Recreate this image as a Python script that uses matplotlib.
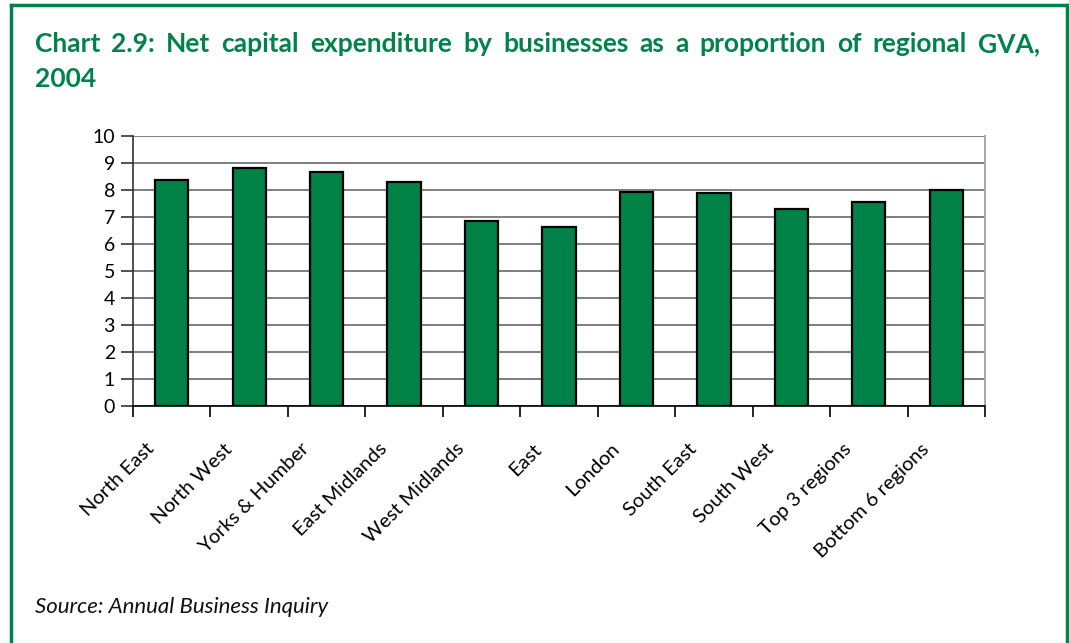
import numpy as np
import matplotlib.pyplot as plt
from matplotlib.transforms import ScaledTranslation

regions = ["North East", "North West", "Yorks & Humber", "East Midlands",
           "West Midlands", "East", "London", "South East", "South West",
           "Top 3 regions", "Bottom 6 regions"]
capex_share = [8.38, 8.82, 8.68, 8.31, 6.84, 6.63, 7.94, 7.88, 7.30, 7.57, 8.01]
y_ticks = [0, 1, 2, 3, 4, 5, 6, 7, 8, 9, 10]

title_line1 = "Chart 2.9: Net capital expenditure by businesses as a proportion of regional GVA,"
title_line2 = "2004"
source_text = "Source: Annual Business Inquiry"

GREEN = "#008145"
TITLE_GREEN = "#00834a"
FONT = "Lato"

plt.rcParams["font.family"] = [FONT, "DejaVu Sans"]

fig = plt.figure(figsize=(10.69, 6.43), dpi=100)
W, H = 1069, 643

# frame around the whole panel (open at the bottom)
fig.add_artist(plt.Line2D([11 / W, 11 / W], [0, 1 - 5 / H], color=TITLE_GREEN, lw=2.5))
fig.add_artist(plt.Line2D([11 / W, 1067 / W], [1 - 5 / H, 1 - 5 / H], color=TITLE_GREEN, lw=2.5))
fig.add_artist(plt.Line2D([1067 / W, 1067 / W], [0, 1 - 5 / H], color=TITLE_GREEN, lw=2.5))

ax = fig.add_axes([133 / W, 1 - 406 / H, (985 - 133) / W, (406 - 136) / H])
x = np.arange(len(regions))
ax.bar(x, capex_share, width=0.43, color=GREEN, edgecolor="black", linewidth=1.6, zorder=3)

ax.set_xlim(-0.5, len(regions) - 0.5)
ax.set_ylim(0, 10)
ax.set_yticks(y_ticks)
ax.set_yticklabels([str(v) for v in y_ticks], fontsize=14)
ax.yaxis.grid(True, color="#7f7f7f", linewidth=1.4, zorder=0)

# category boundaries carry the x ticks, labels sit at the centres
ax.set_xticks(np.arange(len(regions) + 1) - 0.5)
ax.set_xticklabels([])
ax.set_xticks(x, minor=True)
ax.set_xticklabels(regions, minor=True, rotation=45, ha="right", va="center",
                   rotation_mode="anchor", fontsize=14.5)
ax.tick_params(axis="x", which="minor", length=0, pad=29)
ax.tick_params(axis="x", which="major", length=8, width=1.2, color="black", direction="out")
ax.tick_params(axis="y", length=9, width=1.2, color="#333333", direction="out", pad=4)

shift = ScaledTranslation(-20 / 100, 0, fig.dpi_scale_trans)
for lbl in ax.get_xticklabels(minor=True):
    lbl.set_transform(lbl.get_transform() + shift)

ax.spines["top"].set_visible(False)
ax.spines["right"].set_color("#a6a6a6")
ax.spines["right"].set_linewidth(1.4)
ax.spines["left"].set_color("#333333")
ax.spines["left"].set_linewidth(1.2)
ax.spines["bottom"].set_color("black")
ax.spines["bottom"].set_linewidth(1.2)
ax.set_axisbelow(True)

# justified title: spread the words of the first line across the frame
TITLE_SIZE = 19
fig.canvas.draw()
renderer = fig.canvas.get_renderer()
left_px, right_px = 35, 1040
words = title_line1.split(" ")
tmp = [fig.text(0, 0, w, fontsize=TITLE_SIZE, fontweight="bold") for w in words]
widths = [t.get_window_extent(renderer).width for t in tmp]
for t in tmp:
    t.remove()
gap = (right_px - left_px - sum(widths)) / (len(words) - 1)
cur = left_px
for w, wd in zip(words, widths):
    fig.text(cur / W, 1 - 52 / H, w, fontsize=TITLE_SIZE, fontweight="bold",
             color=TITLE_GREEN, va="baseline", ha="left")
    cur += wd + gap
fig.text(left_px / W, 1 - 87 / H, title_line2, fontsize=TITLE_SIZE, fontweight="bold",
         color=TITLE_GREEN, va="baseline", ha="left")

fig.text(left_px / W, 1 - 613 / H, source_text, fontsize=16, style="italic",
         color="#111111", va="baseline", ha="left")

fig.savefig("out.png", dpi=100)
